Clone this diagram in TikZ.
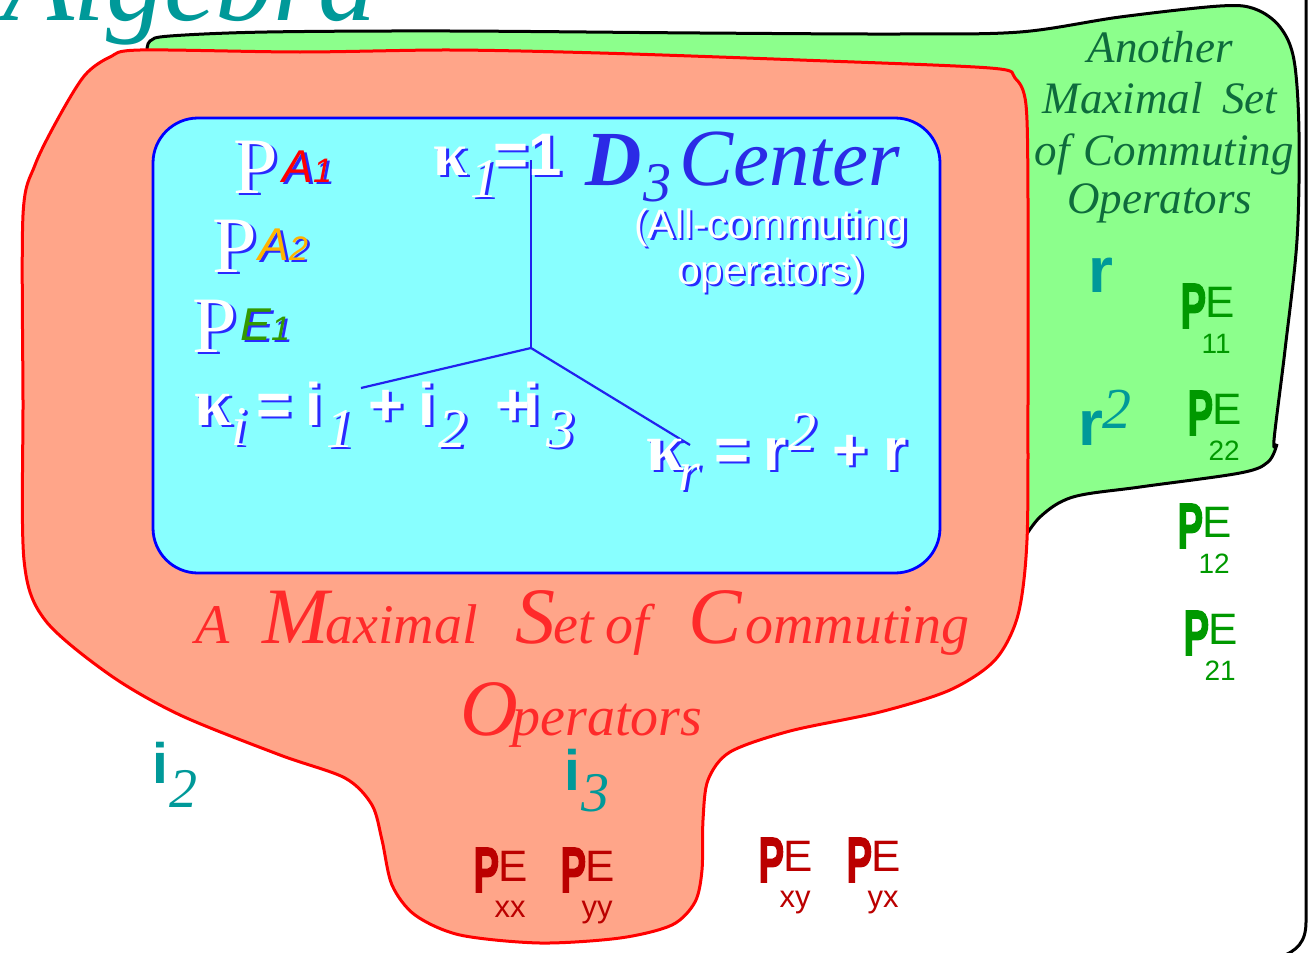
\documentclass[tikz,border=0pt]{standalone}
\usepackage{fontspec}
\usepackage{graphicx}
\setmainfont{Liberation Serif}
\setsansfont{Liberation Sans}
\newfontfamily\pfont{Liberation Sans}[BoldFeatures={FakeBold=2.5}]
\definecolor{shblue}{HTML}{2A2AFF}
\definecolor{lineblue}{HTML}{2222EE}
\definecolor{dblue}{HTML}{2B2BE6}
\definecolor{tealc}{HTML}{009999}
\definecolor{lgreen}{HTML}{8CFF8C}
\definecolor{salmon}{HTML}{FFA589}
\definecolor{cyanfill}{HTML}{88FFFF}
\definecolor{dgreen}{HTML}{0E6B3C}
\definecolor{pgreen}{HTML}{009900}
\definecolor{dred}{HTML}{BB0000}
\definecolor{tred}{HTML}{FF2A2A}
\definecolor{orangec}{HTML}{FFB300}
\definecolor{egreen}{HTML}{339900}
\newcommand\fs[1]{\fontsize{#1}{#1}\selectfont}
\newcommand\shd[2][white]{\rlap{\kern2.5pt\raisebox{-2.5pt}{\color{shblue}#2}}{\color{#1}#2}}
\newcommand\putat[2]{\rlap{\hspace*{#1pt}#2}}
\newcommand\bigP{\scalebox{0.6}[1]{\pfont\bfseries\fs{64}P}}
\newcommand\PEsym[3]{\color{#1}\putat{0}{\bigP}\putat{25}{\raisebox{11pt}{\sffamily\fs{44}E}}\putat{21}{\raisebox{-25pt}{\sffamily\fs{#3}#2}}}
\begin{document}
\begin{tikzpicture}[x=1pt,y=-1pt,
  txt/.style={anchor=base west,inner sep=0pt,outer sep=0pt},
  ctxt/.style={anchor=base,inner sep=0pt,outer sep=0pt},
  axis/.style={draw=lineblue,line width=2.2pt}]
\useasboundingbox (0,0) rectangle (1312,953);
% green region
\path[draw=black,line width=3pt,fill=lgreen]
  plot[smooth,tension=0.55] coordinates {(147,52) (150,41) (170,36) (267,32) (450,31) (700,33) (900,34) (1020,32) (1120,17) (1220,6) (1255,9) (1280,27) (1294,60) (1299,133) (1297,240) (1285,350) (1274,440) (1277,444)}
  -- plot[smooth,tension=0.55] coordinates {(1277,444) (1268,462) (1240,473) (1140,487) (1073,497) (1040,517) (1020,545)}
  -- (1000,560) -- (150,560) -- cycle;
% red region
\path[draw=red,line width=3pt,fill=salmon]
  plot[smooth cycle,tension=0.5] coordinates {(140,50) (300,52) (450,50) (600,53) (800,60) (990,68) (1015,78) (1026,105) (1028,200) (1028,400) (1027,540) (1018,615) (995,660) (950,690) (880,712) (790,731) (730,752) (708,780) (703,820) (702,870) (695,902) (672,925) (620,938) (540,943) (460,935) (415,915) (392,885) (382,840) (372,805) (345,778) (280,755) (180,715) (110,675) (45,620) (24,560) (23,400) (23,215) (35,165) (60,115) (85,75) (110,57)};
% blue box
\draw[draw=blue,line width=2.8pt,fill=cyanfill,rounded corners=45pt] (153,118) rectangle (940,573);
% frame
\draw[line width=3pt] (1306,-5) -- (1306,922) .. controls (1306,942) and (1297,951) .. (1280,957);
% axes
\coordinate (ctr) at (531,348);
\coordinate (ktop) at (531,160);
\coordinate (kleft) at (361,388);
\coordinate (kright) at (690,445);
\draw[axis] (ktop) -- (ctr);
\draw[axis] (ctr) -- (kleft);
\draw[axis] (ctr) -- (kright);
% title
\node[txt,text=tealc] (title) at (3,20) {\itshape\fs{116}Algebra};
% projectors in center
\node[txt] (pa1) at (233,193) {\putat{0}{\fs{80}\shd{P}}\putat{49}{\raisebox{11pt}{\sffamily\itshape\fs{46}\shd[red]{A}\fs{34}\shd[red]{1}}}};
\node[txt] (pa2) at (212,272) {\putat{0}{\fs{80}\shd{P}}\putat{46}{\raisebox{12pt}{\sffamily\itshape\fs{46}\shd[orangec]{A}\fs{34}\shd[orangec]{2}}}};
\node[txt] (pe1) at (192,352) {\putat{0}{\fs{80}\shd{P}}\putat{48}{\raisebox{12pt}{\sffamily\itshape\fs{46}\shd[egreen]{E}\fs{34}\shd[egreen]{1}}}};
% kappa 1
\node[txt] (k1) at (433,175) {\putat{0}{\bfseries\fs{62}\shd{κ}}\putat{37}{\raisebox{-22pt}{\itshape\fs{56}\shd{1}}}\putat{60}{\sffamily\bfseries\fs{60}\shd{=}}\putat{95}{\sffamily\bfseries\fs{60}\shd{1}}};
% kappa i
\node[txt] (ki) at (194,425) {\putat{0}{\bfseries\fs{68}\shd{κ}}\putat{37}{\raisebox{-20pt}{\itshape\fs{56}\shd{i}}}%
 \putat{62}{\sffamily\bfseries\fs{60}\shd{=}}\putat{111}{\sffamily\bfseries\fs{60}\shd{i}}\putat{132}{\raisebox{-22pt}{\itshape\fs{56}\shd{1}}}%
 \putat{174}{\sffamily\bfseries\fs{60}\shd{+}}\putat{224}{\sffamily\bfseries\fs{60}\shd{i}}\putat{244}{\raisebox{-22pt}{\itshape\fs{56}\shd{2}}}%
 \putat{301}{\sffamily\bfseries\fs{60}\shd{+}}\putat{329}{\sffamily\bfseries\fs{60}\shd{i}}\putat{352}{\raisebox{-22pt}{\itshape\fs{56}\shd{3}}}};
% kappa r
\node[txt] (kr) at (646,470) {\putat{0}{\bfseries\fs{68}\shd{κ}}\putat{32}{\raisebox{-20pt}{\itshape\fs{56}\shd{r}}}%
 \putat{68}{\sffamily\bfseries\fs{60}\shd{=}}\putat{117}{\sffamily\bfseries\fs{60}\shd{r}}\putat{142}{\raisebox{20pt}{\itshape\fs{56}\shd{2}}}%
 \putat{186}{\sffamily\bfseries\fs{60}\shd{+}}\putat{237}{\sffamily\bfseries\fs{60}\shd{r}}};
% D3 Center
\node[txt,text=dblue] (dc) at (585,185) {\putat{0}{\bfseries\itshape\fs{78}D}\putat{58}{\raisebox{-16pt}{\itshape\fs{56}3}}\putat{94}{\itshape\fs{81}Center}};
\node[ctxt] (allc1) at (771,238) {\sffamily\fs{41}\shd{(All-commuting}};
\node[ctxt] (allc2) at (771,284) {\sffamily\fs{41}\shd{operators)}};
% red title
\node[txt,text=tred] (ms1) at (195,643) {\itshape\putat{0}{\fs{56}A}\putat{67}{\fs{80}M}\putat{130}{\fs{56}aximal}\putat{320}{\fs{80}S}\putat{358}{\fs{56}et}\putat{410}{\fs{56}of}\putat{493}{\fs{80}C}\putat{550}{\fs{56}ommuting}};
\node[txt,text=tred] (ms2) at (460,735) {\itshape\putat{0}{\fs{80}O}\putat{52}{\fs{56}perators}};
% another maximal set
\node[ctxt,text=dgreen] (am1) at (1160,62) {\itshape\fs{45}Another};
\node[ctxt,text=dgreen] (am2) at (1160,113) {\itshape\fs{45}Maximal\hspace{20pt}Set};
\node[ctxt,text=dgreen] (am3) at (1164,165) {\itshape\fs{45}of\hspace{14pt}Commuting};
\node[ctxt,text=dgreen] (am4) at (1160,213) {\itshape\fs{45}Operators};
% r, r^2
\node[txt,text=tealc] (r1) at (1088,292) {\sffamily\bfseries\fs{64}r};
\node[txt,text=tealc] (r2) at (1078,445) {\putat{0}{\sffamily\bfseries\fs{64}r}\putat{24}{\raisebox{17pt}{\rmfamily\itshape\fs{58}2}}};
% i2, i3
\node[txt,text=tealc] (i2) at (152,783) {\putat{0}{\sffamily\bfseries\fs{57}i}\putat{17}{\raisebox{-24pt}{\itshape\fs{56}2}}};
\node[txt,text=tealc] (i3) at (564,790) {\putat{0}{\sffamily\bfseries\fs{57}i}\putat{17}{\raisebox{-21pt}{\itshape\fs{56}3}}};
% green projectors
\node[txt] (p11) at (1180,328) {\PEsym{pgreen}{11}{28}};
\node[txt] (p22) at (1187,435) {\PEsym{pgreen}{22}{28}};
\node[txt] (p12) at (1177,548) {\PEsym{pgreen}{12}{28}};
\node[txt] (p21) at (1183,655) {\PEsym{pgreen}{21}{28}};
% red projectors
\node[txt] (pxx) at (473,892) {\PEsym{dred}{xx}{31}};
\node[txt] (pyy) at (560,892) {\PEsym{dred}{yy}{31}};
\node[txt] (pxy) at (758,882) {\PEsym{dred}{xy}{31}};
\node[txt] (pyx) at (846,882) {\PEsym{dred}{yx}{31}};
\end{tikzpicture}
\end{document}
